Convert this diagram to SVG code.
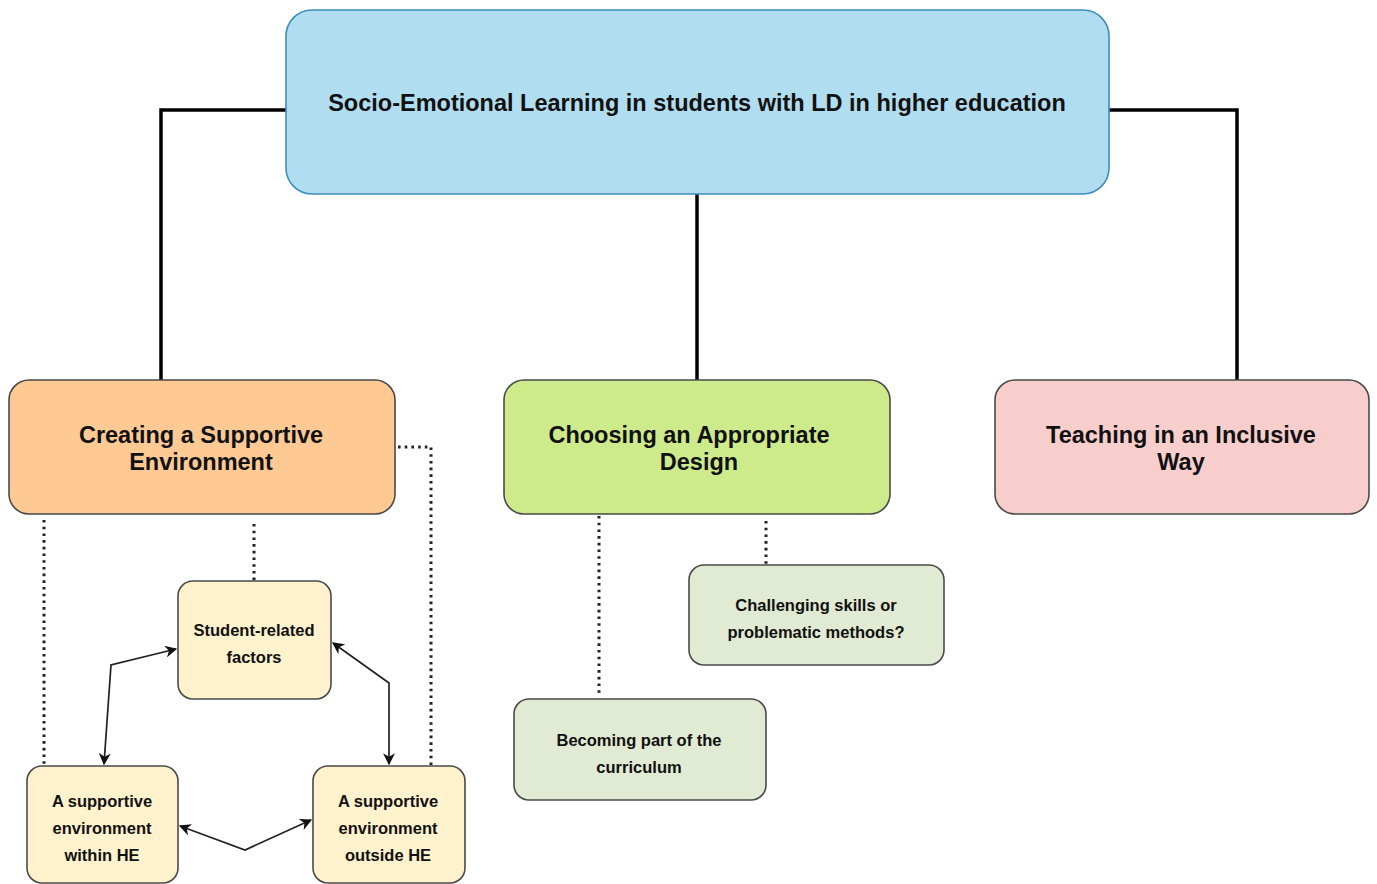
<svg xmlns="http://www.w3.org/2000/svg" width="1377" height="884" viewBox="0 0 1377 884">
<defs>
<style>
.big{font-family:"Liberation Sans",Arial,sans-serif;font-weight:bold;font-size:23.5px;fill:#111;text-anchor:middle}
.sm{font-family:"Liberation Sans",Arial,sans-serif;font-weight:bold;font-size:16.5px;fill:#111;text-anchor:middle}
.thick{fill:none;stroke:#000;stroke-width:3.5}
.dot{fill:none;stroke:#222;stroke-width:3;stroke-dasharray:2.6 4.1}
.arr{fill:none;stroke:#222;stroke-width:1.7;marker-start:url(#ah);marker-end:url(#ah)}
.node{stroke:#4a4a4a;stroke-width:1.6}
</style>
<marker id="ah" viewBox="0 0 10 10" refX="9" refY="5" markerWidth="12" markerHeight="12" markerUnits="userSpaceOnUse" orient="auto-start-reverse">
<path d="M0,0 L10,5 L0,10 L3,5 Z" fill="#111"/>
</marker>
</defs>
<rect width="1377" height="884" fill="#fff"/>
<g id="connectors">
<path class="thick" d="M286,110 H161 V380"/>
<path class="thick" d="M1109,110 H1237 V380"/>
<path class="thick" d="M697,194 V380"/>
<path class="dot" d="M44,520 V766"/>
<path class="dot" d="M254,524 V581"/>
<path class="dot" d="M398,447 H431 V766"/>
<path class="dot" d="M599,516 V694"/>
<path class="dot" d="M766,521 V565"/>
<path class="arr" d="M104,764 L111,665 L176,649"/>
<path class="arr" d="M333,643 L389,683 L389,764"/>
<path class="arr" d="M180,826 L245,850 L311,820"/>
</g>
<g id="root">
<rect x="286" y="10" width="823" height="184" rx="26" fill="#b1ddf0" stroke="#3c8dbc" stroke-width="1.6"/>
<text class="big" x="697" y="111">Socio-Emotional Learning in students with LD in higher education</text>
</g>
<g id="supportive">
<rect class="node" x="9" y="380" width="386" height="134" rx="20" fill="#ffc994"/>
<text class="big" x="201" y="443">Creating a Supportive</text>
<text class="big" x="201" y="470">Environment</text>
</g>
<g id="design">
<rect class="node" x="504" y="380" width="386" height="134" rx="20" fill="#cdeb8b"/>
<text class="big" x="689" y="443">Choosing an Appropriate</text>
<text class="big" x="699" y="470">Design</text>
</g>
<g id="inclusive">
<rect class="node" x="995" y="380" width="374" height="134" rx="20" fill="#f8cecc"/>
<text class="big" x="1181" y="443">Teaching in an Inclusive</text>
<text class="big" x="1181" y="470">Way</text>
</g>
<g id="student">
<rect class="node" x="178" y="581" width="153" height="118" rx="15" fill="#fff2cc"/>
<text class="sm" x="254" y="636">Student-related</text>
<text class="sm" x="254" y="663">factors</text>
</g>
<g id="within">
<rect class="node" x="27" y="766" width="151" height="117" rx="15" fill="#fff2cc"/>
<text class="sm" x="102" y="807">A supportive</text>
<text class="sm" x="102" y="834">environment</text>
<text class="sm" x="102" y="861">within HE</text>
</g>
<g id="outside">
<rect class="node" x="313" y="766" width="152" height="117" rx="15" fill="#fff2cc"/>
<text class="sm" x="388" y="807">A supportive</text>
<text class="sm" x="388" y="834">environment</text>
<text class="sm" x="388" y="861">outside HE</text>
</g>
<g id="challenging">
<rect class="node" x="689" y="565" width="255" height="100" rx="15" fill="#e1ebd3"/>
<text class="sm" x="816" y="611">Challenging skills or</text>
<text class="sm" x="816" y="638">problematic methods?</text>
</g>
<g id="curriculum">
<rect class="node" x="514" y="699" width="252" height="101" rx="15" fill="#e1ebd3"/>
<text class="sm" x="639" y="746">Becoming part of the</text>
<text class="sm" x="639" y="773">curriculum</text>
</g>
</svg>
